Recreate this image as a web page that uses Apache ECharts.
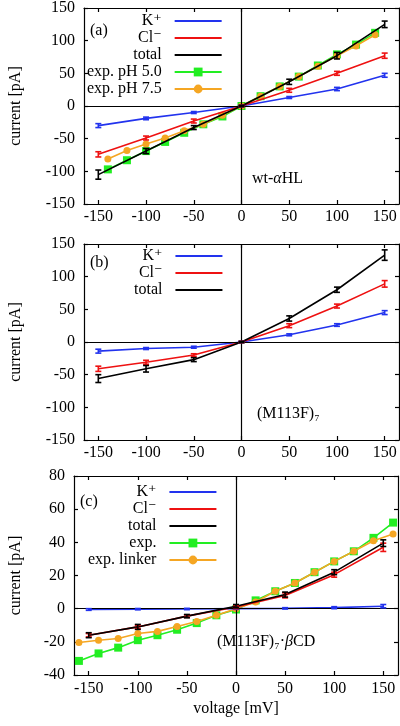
<!DOCTYPE html>
<html><head><meta charset="utf-8">
<script src="https://cdn.jsdelivr.net/npm/echarts@6/dist/echarts.min.js"></script>
<style>html,body{margin:0;padding:0;background:#fff}#c{width:400px;height:726px}</style>
</head><body><div id="c"></div>
<script>
// ---------- data ----------
const simV = [-150, -100, -50, 0, 50, 100, 150];
const xTicks = [-150, -100, -50, 0, 50, 100, 150];

// panel (a) wt-aHL
const aK = [-30, -19, -10, 0, 13, 26, 47];
const aKerr = [3, 2, 1.5, 1, 1.5, 2.5, 3];
const aCl = [-74, -49, -23, 0, 24, 50, 77];
const aClErr = [4, 3, 3, 1, 3, 3, 4];
const aTot = [-105, -69, -33, 0, 37, 77, 125];
const aTotErr = [7, 4, 3, 1, 4, 5, 5];
const aExpV = [-140, -120, -100, -80, -60, -40, -20, 0, 20, 40, 60, 80, 100, 120, 140];
const aExp50 = [-97, -83, -69, -55, -41, -28, -16, 0, 15, 30, 45, 62, 79, 94, 112];
const aExp75 = [-81, -68, -58, -49, -38, -28, -14, 0, 15, 30, 45, 61, 77, 92, 109];

// panel (b) (M113F)7
const bK = [-14, -10, -8, 0, 11, 26, 45];
const bKerr = [3, 1.5, 1.5, 1, 1.5, 2, 3];
const bCl = [-41, -31, -20, 0, 25, 55, 89];
const bClErr = [4, 3, 2, 1, 3, 3, 5];
const bTot = [-56, -41, -27, 0, 36, 80, 133];
const bTotErr = [6, 5, 3, 1, 4, 4, 8];

// panel (c) (M113F)7-bCD
const cK = [-0.5, -0.3, -0.2, 0, 0.2, 0.6, 1.5];
const cKerr = [0.5, 0.4, 0.4, 0.4, 0.4, 0.6, 1];
const cCl = [-16, -11, -4.5, 1, 8, 20.5, 37];
const cClErr = [1, 1, 0.8, 1, 1.5, 1.5, 2.5];
const cTot = [-16, -11, -4.5, 1.5, 8.5, 22, 39.5];
const cTotErr = [1.5, 1.5, 1, 1, 1.5, 1.5, 2];
const cExpV = [-160, -140, -120, -100, -80, -60, -40, -20, 0, 20, 40, 60, 80, 100, 120, 140, 160];
const cExp = [-31.5, -27, -23.5, -19, -16, -12.7, -8.7, -4, -0.5, 5, 10.5, 15.5, 22, 28.5, 34.6, 42.7, 51.9];
const cLink = [-20.4, -19, -18, -15, -13.7, -10.7, -7.7, -4, 0, 4, 10.5, 15.5, 22, 28.5, 34.6, 41, 45];

// ---------- styling ----------
const FONT = "'Liberation Serif','DejaVu Serif','Times New Roman',serif";
const FS = 16;
const BLUE = '#2233ee', RED = '#ee1111', BLACK = '#000000', GREEN = '#22ee22', ORANGE = '#f5a623';
const NAME_K = 'K\u207A', NAME_CL = 'Cl\u207B', NAME_TOT = 'total';
const LEG_PAD = '  ';

const zip = (xs, ys) => xs.map((x, i) => [x, ys[i]]);

const mctx = document.createElement('canvas').getContext('2d');
function textW(s) { mctx.font = FS + 'px ' + FONT; return mctx.measureText(s).width; }

function lineSeries(name, xs, ys, color, gi, z, symbol, symSize) {
  return {
    type: 'line', name: name, xAxisIndex: 2 * gi, yAxisIndex: 2 * gi,
    data: zip(xs, ys), z: z, animation: false, silent: true,
    symbol: symbol || 'none', symbolSize: symSize || 0, showSymbol: !!symbol,
    lineStyle: { color: color, width: 1.6 }, itemStyle: { color: color, opacity: symbol ? 1 : 0 }
  };
}
function errSeries(xs, ys, es, color, gi, z) {
  return {
    type: 'custom', xAxisIndex: 2 * gi, yAxisIndex: 2 * gi, z: z, animation: false, silent: true,
    data: xs.map((x, i) => [x, ys[i] - es[i], ys[i] + es[i]]),
    renderItem: function (params, api) {
      const x = api.value(0);
      const p1 = api.coord([x, api.value(1)]);
      const p2 = api.coord([x, api.value(2)]);
      const w = 3;
      const st = { stroke: color, lineWidth: 1.6 };
      return { type: 'group', children: [
        { type: 'line', shape: { x1: p1[0], y1: p1[1], x2: p2[0], y2: p2[1] }, style: st },
        { type: 'line', shape: { x1: p1[0] - w, y1: p1[1], x2: p1[0] + w, y2: p1[1] }, style: st },
        { type: 'line', shape: { x1: p2[0] - w, y1: p2[1], x2: p2[0] + w, y2: p2[1] }, style: st }
      ] };
    }
  };
}
function zeroLines(gi) {
  return {
    type: 'line', xAxisIndex: 2 * gi, yAxisIndex: 2 * gi, data: [], z: 1, silent: true, animation: false,
    markLine: { symbol: ['none', 'none'], silent: true, animation: false, label: { show: false },
      lineStyle: { color: '#000', type: 'solid', width: 1.2 },
      data: [{ xAxis: 0 }, { yAxis: 0 }] }
  };
}
function xAxesFor(gi, labelMargin, withName) {
  const common = { type: 'value', gridIndex: gi, min: -165, max: 165,
    axisLine: { show: true, onZero: false, lineStyle: { color: '#000', width: 1.2 } },
    axisTick: { show: true, inside: true, length: 4, customValues: xTicks, lineStyle: { color: '#000', width: 1.2 } },
    splitLine: { show: false } };
  const bottom = Object.assign({}, common, { position: 'bottom',
    axisLabel: { customValues: xTicks, margin: labelMargin, color: '#000', fontFamily: FONT, fontSize: FS } });
  if (withName) Object.assign(bottom, { name: 'voltage [mV]', nameLocation: 'middle', nameGap: 26,
    nameTextStyle: { color: '#000', fontFamily: FONT, fontSize: FS } });
  const top = Object.assign({}, common, { position: 'top', axisLabel: { show: false } });
  return [bottom, top];
}
function yAxesFor(gi, min, max, interval, nameGap) {
  const common = { type: 'value', gridIndex: gi, min: min, max: max, interval: interval,
    axisLine: { show: true, onZero: false, lineStyle: { color: '#000', width: 1.2 } },
    axisTick: { show: true, inside: true, length: 4, lineStyle: { color: '#000', width: 1.2 } },
    splitLine: { show: false } };
  const left = Object.assign({}, common, { position: 'left',
    axisLabel: { margin: 9, color: '#000', fontFamily: FONT, fontSize: FS },
    name: 'current [pA]', nameLocation: 'middle', nameGap: nameGap,
    nameTextStyle: { color: '#000', fontFamily: FONT, fontSize: FS } });
  const right = Object.assign({}, common, { position: 'right', axisLabel: { show: false } });
  return [left, right];
}
function legendFor(names, iconX, top) {
  const maxW = Math.max.apply(null, names.map(n => textW(n + LEG_PAD)));
  const data = names.map(n => (n === NAME_K || n === NAME_CL || n === NAME_TOT)
    ? { name: n, itemStyle: { opacity: 0 } } : { name: n });
  return { orient: 'vertical', align: 'right', left: Math.round(iconX - 5 - maxW), top: top,
    itemWidth: 47, itemHeight: 11, itemGap: 1, selectedMode: false, padding: 0, data: data,
    formatter: n => n + LEG_PAD,
    textStyle: { color: '#000', fontFamily: FONT, fontSize: FS } };
}
function note(text, left, top) {
  return { text: text, left: left, top: top, padding: 0,
    textStyle: { color: '#000', fontFamily: FONT, fontSize: FS, fontWeight: 'normal',
      rich: { n: { fontFamily: FONT, fontSize: FS, color: '#000' },
              i: { fontFamily: FONT, fontSize: FS, fontStyle: 'italic', color: '#000' } } } };
}

const xAxis = [].concat(xAxesFor(0, 5, false), xAxesFor(1, 5, false), xAxesFor(2, 6, true));
const yAxis = [].concat(yAxesFor(0, -150, 150, 50, 60), yAxesFor(1, -150, 150, 50, 60), yAxesFor(2, -40, 80, 20, 50));

const series = [
  zeroLines(0), zeroLines(1), zeroLines(2),
  // panel a
  lineSeries('exp. pH 5.0', aExpV, aExp50, GREEN, 0, 2, 'rect', 8),
  lineSeries('exp. pH 7.5', aExpV, aExp75, ORANGE, 0, 3, 'circle', 7),
  lineSeries(NAME_K, simV, aK, BLUE, 0, 4), errSeries(simV, aK, aKerr, BLUE, 0, 5),
  lineSeries(NAME_CL, simV, aCl, RED, 0, 4), errSeries(simV, aCl, aClErr, RED, 0, 5),
  lineSeries(NAME_TOT, simV, aTot, BLACK, 0, 4), errSeries(simV, aTot, aTotErr, BLACK, 0, 5),
  // panel b
  lineSeries(NAME_K, simV, bK, BLUE, 1, 4), errSeries(simV, bK, bKerr, BLUE, 1, 5),
  lineSeries(NAME_CL, simV, bCl, RED, 1, 4), errSeries(simV, bCl, bClErr, RED, 1, 5),
  lineSeries(NAME_TOT, simV, bTot, BLACK, 1, 4), errSeries(simV, bTot, bTotErr, BLACK, 1, 5),
  // panel c
  lineSeries('exp.', cExpV, cExp, GREEN, 2, 2, 'rect', 8),
  lineSeries('exp. linker', cExpV, cLink, ORANGE, 2, 3, 'circle', 7),
  lineSeries(NAME_K, simV, cK, BLUE, 2, 4), errSeries(simV, cK, cKerr, BLUE, 2, 5),
  lineSeries(NAME_CL, simV, cCl, RED, 2, 4), errSeries(simV, cCl, cClErr, RED, 2, 5),
  lineSeries(NAME_TOT, simV, cTot, BLACK, 2, 4), errSeries(simV, cTot, cTotErr, BLACK, 2, 5)
];

const option = {
  backgroundColor: '#fff',
  animation: false,
  grid: [
    { left: 78, top: 7, width: 321, height: 197 },
    { left: 78, top: 244, width: 321, height: 196 },
    { left: 68, top: 476, width: 330, height: 199 }
  ],
  xAxis: xAxis,
  yAxis: yAxis,
  legend: [
    legendFor([NAME_K, NAME_CL, NAME_TOT, 'exp. pH 5.0', 'exp. pH 7.5'], 175, 13),
    legendFor([NAME_K, NAME_CL, NAME_TOT], 175, 248),
    legendFor([NAME_K, NAME_CL, NAME_TOT, 'exp.', 'exp. linker'], 169, 484)
  ],
  title: [
    note('(a)', 90, 23),
    note('{n|wt-}{i|α}{n|HL}', 252, 171),
    note('(b)', 90, 255),
    note('(M113F)\u2087', 257, 406),
    note('(c)', 80, 494),
    note('{n|(M113F)\u2087·}{i|β}{n|CD}', 217, 634)
  ],
  series: series
};
const chart = echarts.init(document.getElementById('c'), null, { renderer: 'canvas' });
chart.setOption(option);
</script></body></html>
